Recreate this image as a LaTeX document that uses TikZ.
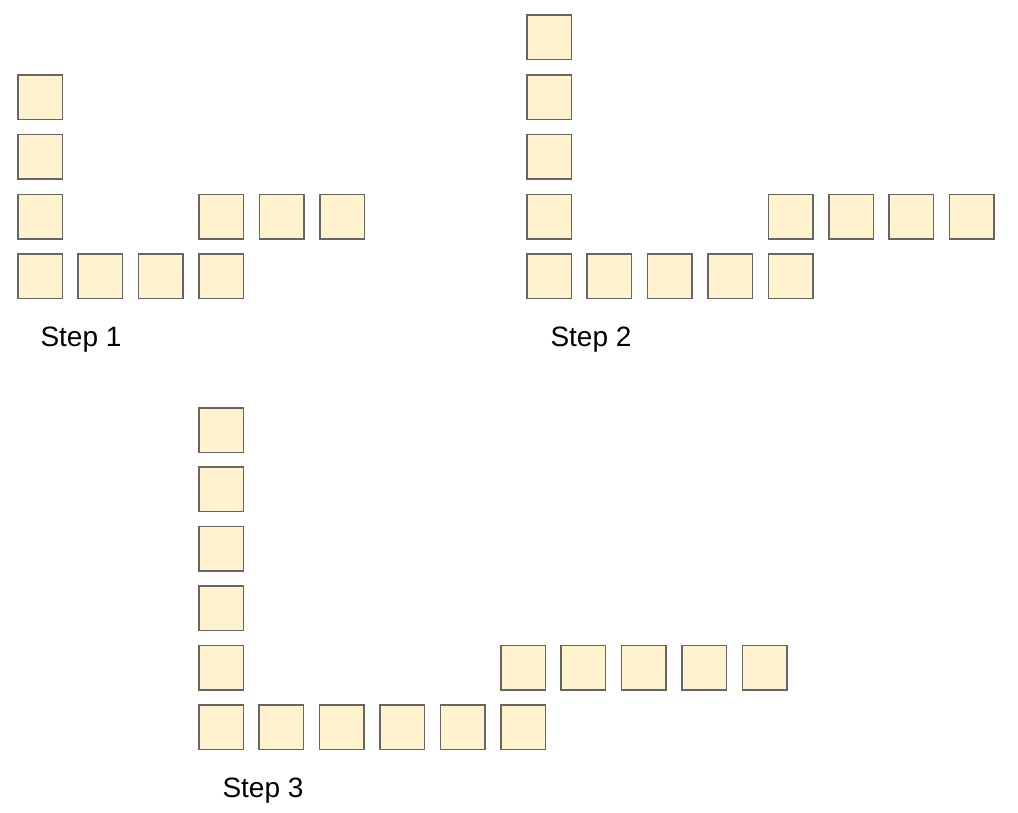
\documentclass[tikz,border=0pt]{standalone}
\usepackage{fontspec}
\setmainfont{Liberation Sans}
\usepackage{tikz}
\usetikzlibrary{positioning}

\definecolor{tilefill}{HTML}{FFF2CC}
\definecolor{tileline}{HTML}{666666}

\tikzset{
    tile/.style={draw=tileline, fill=tilefill, line width=1.5pt, minimum size=44.5pt, inner sep=0pt},
    steplabel/.style={font=\fontsize{28}{32}\selectfont, inner sep=0pt}
}

\begin{document}
\begin{tikzpicture}[x=1pt, y=-1pt]
    \useasboundingbox (0,0) rectangle (1018,812);

    % Step 1
    \foreach \i in {0,...,3}
        \node[tile] (a\i) at (40, 97+59.8*\i) {};
    \foreach \i in {1,...,3}
        \node[tile] (ab\i) at (40+60.4*\i, 276.4) {};
    \foreach \i in {0,...,2}
        \node[tile] (ar\i) at (221.2+60.4*\i, 216.6) {};
    \node[steplabel] (lab1) at (81, 340) {Step 1};

    % Step 2
    \foreach \i in {0,...,4}
        \node[tile] (b\i) at (549, 37.2+59.8*\i) {};
    \foreach \i in {1,...,4}
        \node[tile] (bb\i) at (549+60.4*\i, 276.4) {};
    \foreach \i in {0,...,3}
        \node[tile] (br\i) at (790.6+60.4*\i, 216.6) {};
    \node[steplabel] (lab2) at (591, 340) {Step 2};

    % Step 3
    \foreach \i in {0,...,5}
        \node[tile] (c\i) at (221, 430+59.4*\i) {};
    \foreach \i in {1,...,5}
        \node[tile] (cb\i) at (221+60.4*\i, 727) {};
    \foreach \i in {0,...,4}
        \node[tile] (cr\i) at (523+60.4*\i, 667.6) {};
    \node[steplabel] (lab3) at (263, 791) {Step 3};
\end{tikzpicture}
\end{document}
